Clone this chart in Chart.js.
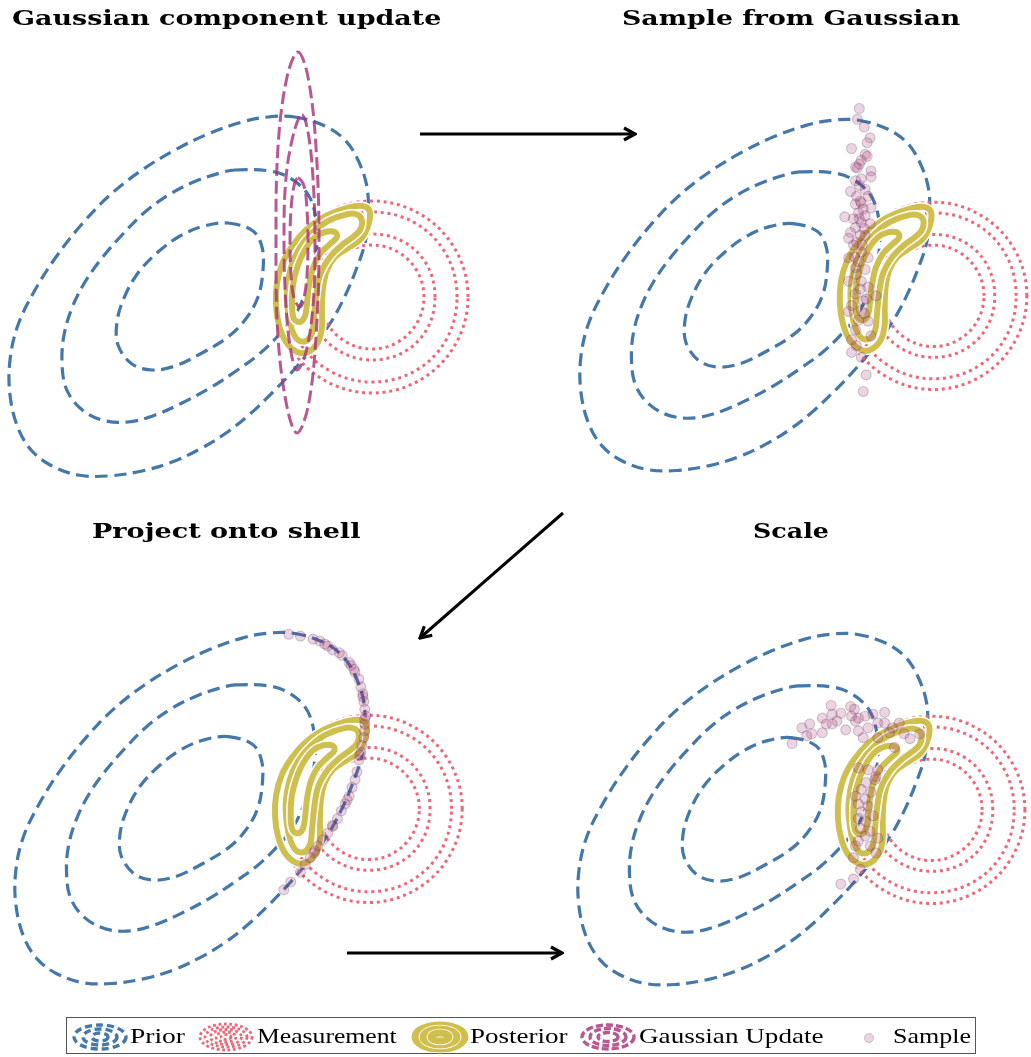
<!DOCTYPE html>
<html>
<head>
<meta charset="utf-8">
<script src="https://cdn.jsdelivr.net/npm/chart.js@4.4.1/dist/chart.umd.min.js"></script>
<style>
  html, body { margin: 0; padding: 0; background: #fff; overflow: hidden; }
  body { width: 1031px; height: 1057px; position: relative; }
  canvas.panel { position: absolute; }
  .title { position: absolute; font-family: 'DejaVu Serif', serif; font-weight: bold;
           font-size: 21px; line-height: 21px; white-space: nowrap; color: #000; transform-origin: 0 0; }
  #legend { position: absolute; left: 66px; top: 1017px; width: 910px; height: 37px;
            border: 1.5px solid #555; box-sizing: border-box; }
  .ltext { position: absolute; font-family: 'Liberation Serif', serif; font-size: 22px;
           line-height: 22px; white-space: nowrap; color: #000; transform-origin: 0 0; }
  .licon { position: absolute; }
  svg#arrows { position: absolute; left: 0; top: 0; }
</style>
</head>
<body>

<canvas id="p1" class="panel"></canvas>
<canvas id="p2" class="panel"></canvas>
<canvas id="p3" class="panel"></canvas>
<canvas id="p4" class="panel"></canvas>

<div class="title" data-cx="227" data-base="25" data-w="430">Gaussian component update</div>
<div class="title" data-cx="791" data-base="25" data-w="338">Sample from Gaussian</div>
<div class="title" data-cx="226" data-base="538" data-w="268">Project onto shell</div>
<div class="title" data-cx="791" data-base="538" data-w="76">Scale</div>

<svg id="arrows" width="1031" height="1057">
  <defs>
    <marker id="head" viewBox="0 0 16 16" refX="14" refY="8" markerWidth="16" markerHeight="16"
            markerUnits="userSpaceOnUse" orient="auto">
      <path d="M3,2 L14,8 L3,14" fill="none" stroke="#000" stroke-width="3.2" stroke-linejoin="miter"/>
    </marker>
  </defs>
  <line x1="420" y1="134" x2="635" y2="134" stroke="#000" stroke-width="3" marker-end="url(#head)"/>
  <line x1="563" y1="513" x2="420" y2="638" stroke="#000" stroke-width="3" marker-end="url(#head)"/>
  <line x1="347" y1="953" x2="562" y2="953" stroke="#000" stroke-width="3" marker-end="url(#head)"/>
</svg>

<div id="legend"></div>

<script>
// ---- colours -------------------------------------------------------------
const PRIOR_COLOR = '#4477AA';
const MEAS_COLOR = '#EE6677';
const POST_COLOR = 'rgba(204,187,68,0.94)';
const UPDATE_COLOR = 'rgba(170,51,119,0.82)';
const SAMPLE_FILL = 'rgba(170,51,119,0.21)';
const SAMPLE_EDGE = 'rgba(70,40,70,0.24)';

// ---- prior density contours (state space, x / y) --------------------------
const priorOuter = [
  [0.95, 1.83], [1.25, 1.74], [1.45, 1.60], [1.58, 1.40], [1.67, 1.13], [1.68, 0.83],
  [1.65, 0.57], [1.56, 0.30], [1.45, 0.04], [1.31, -0.22], [1.12, -0.48], [0.92, -0.72],
  [0.72, -0.93], [0.50, -1.14], [0.26, -1.33], [0.00, -1.49], [-0.28, -1.62], [-0.58, -1.71],
  [-0.92, -1.76], [-1.22, -1.75], [-1.48, -1.66], [-1.68, -1.51], [-1.82, -1.28], [-1.90, -0.95],
  [-1.90, -0.60], [-1.82, -0.25], [-1.65, 0.10], [-1.44, 0.43], [-1.18, 0.76], [-0.90, 1.05],
  [-0.58, 1.30], [-0.25, 1.50], [0.08, 1.66], [0.42, 1.78], [0.68, 1.83]
];
const priorMiddle = [
  [0.35, 1.30], [0.70, 1.29], [0.90, 1.22], [1.07, 1.07], [1.15, 0.87], [1.17, 0.60],
  [1.14, 0.35], [1.06, 0.08], [0.93, -0.18], [0.77, -0.37], [0.58, -0.55], [0.36, -0.71],
  [0.10, -0.88], [-0.18, -1.03], [-0.45, -1.15], [-0.72, -1.22], [-0.98, -1.20], [-1.20, -1.08],
  [-1.34, -0.88], [-1.38, -0.62], [-1.36, -0.35], [-1.28, -0.08], [-1.15, 0.18], [-0.98, 0.42],
  [-0.78, 0.65], [-0.55, 0.88], [-0.30, 1.06], [-0.04, 1.19], [0.20, 1.27]
];
const priorInner = [
  [0.28, 0.77], [0.53, 0.69], [0.62, 0.53], [0.63, 0.30], [0.58, 0.03], [0.45, -0.20],
  [0.28, -0.37], [0.02, -0.53], [-0.25, -0.66], [-0.48, -0.70], [-0.68, -0.64], [-0.82, -0.45],
  [-0.83, -0.22], [-0.76, 0.02], [-0.62, 0.27], [-0.42, 0.48], [-0.20, 0.64], [0.04, 0.74]
];

// ---- measurement likelihood rings ----------------------------------------
const measRing1 = [
  [2.68, 0.03], [2.55, 0.51], [2.20, 0.86], [1.72, 0.99], [1.24, 0.86], [0.89, 0.51],
  [0.76, 0.03], [0.89, -0.45], [1.24, -0.80], [1.72, -0.93], [2.20, -0.80], [2.55, -0.45]
];
const measRing2 = [
  [2.57, 0.03], [2.46, 0.46], [2.15, 0.77], [1.72, 0.88], [1.30, 0.77], [0.98, 0.46],
  [0.87, 0.03], [0.98, -0.40], [1.30, -0.71], [1.72, -0.82], [2.15, -0.71], [2.46, -0.40]
];
const measRing3 = [
  [2.35, 0.03], [2.27, 0.35], [2.04, 0.58], [1.72, 0.66], [1.41, 0.58], [1.17, 0.35],
  [1.09, 0.03], [1.17, -0.29], [1.41, -0.52], [1.72, -0.60], [2.04, -0.52], [2.27, -0.29]
];
const measRing4 = [
  [2.24, 0.03], [2.17, 0.29], [1.98, 0.48], [1.72, 0.55], [1.46, 0.48], [1.27, 0.29],
  [1.20, 0.03], [1.27, -0.23], [1.46, -0.42], [1.72, -0.49], [1.98, -0.42], [2.17, -0.23]
];

// ---- posterior contours ---------------------------------------------------
const posteriorOuter = [
  [1.56, 0.94], [1.66, 0.93], [1.70, 0.87], [1.68, 0.74], [1.61, 0.61], [1.48, 0.52],
  [1.35, 0.43], [1.27, 0.30], [1.23, 0.12], [1.22, -0.08], [1.22, -0.27], [1.18, -0.42],
  [1.08, -0.52], [0.97, -0.52], [0.86, -0.42], [0.79, -0.25], [0.76, -0.05], [0.77, 0.17],
  [0.83, 0.38], [0.93, 0.55], [1.06, 0.70], [1.22, 0.82], [1.40, 0.90]
];
const posteriorMiddle = [
  [1.48, 0.86], [1.58, 0.85], [1.62, 0.79], [1.60, 0.70], [1.53, 0.63], [1.42, 0.55],
  [1.30, 0.43], [1.20, 0.25], [1.16, 0.03], [1.14, -0.17], [1.12, -0.33], [1.06, -0.41],
  [0.98, -0.40], [0.92, -0.30], [0.88, -0.12], [0.87, 0.10], [0.91, 0.33], [0.99, 0.51],
  [1.12, 0.67], [1.28, 0.79]
];
const posteriorInner = [
  [1.25, 0.68], [1.35, 0.68], [1.37, 0.63], [1.30, 0.56], [1.20, 0.46], [1.13, 0.32],
  [1.09, 0.15], [1.07, -0.03], [1.05, -0.16], [1.00, -0.22], [0.94, -0.19], [0.92, -0.05],
  [0.93, 0.15], [0.98, 0.35], [1.06, 0.52], [1.15, 0.63]
];

// ---- Gaussian component update contours -----------------------------------
const updateOuter = [
  [0.98, 2.48], [1.08, 2.23], [1.16, 1.53], [1.19, 0.58], [1.16, -0.37], [1.08, -1.07],
  [0.97, -1.33], [0.87, -1.07], [0.78, -0.37], [0.76, 0.58], [0.78, 1.53], [0.87, 2.23]
];
const updateMiddle = [
  [1.02, 1.85], [1.08, 1.68], [1.13, 1.22], [1.15, 0.58], [1.13, -0.06], [1.06, -0.52],
  [0.97, -0.70], [0.91, -0.52], [0.86, -0.06], [0.84, 0.58], [0.86, 1.22], [0.94, 1.68]
];
const updateInner = [
  [0.98, 1.22], [1.04, 1.14], [1.07, 0.90], [1.08, 0.58], [1.07, 0.25], [1.04, 0.02],
  [1.00, -0.07], [0.94, 0.02], [0.91, 0.25], [0.90, 0.58], [0.91, 0.90], [0.94, 1.14]
];

// ---- samples --------------------------------------------------------------
const samplesGaussian = [
  [0.96, 1.95], [0.94, 1.84], [1.01, 1.76], [1.07, 1.65], [1.04, 1.60], [0.88, 1.54],
  [1.02, 1.48], [1.04, 1.46], [0.98, 1.42], [0.96, 1.38], [0.92, 1.35], [0.94, 1.34],
  [1.08, 1.31], [1.08, 1.25], [0.98, 1.23], [0.92, 1.21], [0.87, 1.10], [0.96, 1.16],
  [1.02, 1.12], [0.93, 1.05], [1.05, 1.05], [0.98, 0.98], [0.92, 0.97], [1.08, 0.93],
  [1.00, 0.92], [0.95, 0.88], [0.81, 0.84], [0.90, 0.82], [1.02, 0.85], [0.98, 0.78],
  [0.92, 0.73], [1.07, 0.77], [0.87, 0.68], [0.97, 0.65], [0.85, 0.62], [1.02, 0.65],
  [0.93, 0.58], [0.90, 0.55], [0.85, 0.42], [0.98, 0.48], [1.05, 0.42], [0.92, 0.32],
  [1.02, 0.30], [0.85, 0.18], [0.98, 0.18], [1.05, 0.12], [1.13, 0.03], [0.92, 0.05],
  [1.00, -0.02], [0.88, -0.07], [0.85, -0.13], [0.98, -0.12], [1.05, -0.23], [0.95, -0.22],
  [0.92, -0.32], [1.08, -0.38], [0.88, -0.42], [0.93, -0.48], [0.88, -0.55], [0.98, -0.60],
  [1.03, -0.78], [1.00, -0.95], [0.97, 1.00], [1.01, 0.72], [0.95, 0.38], [1.03, 0.00],
  [0.97, 0.10], [0.93, 0.25], [0.99, 0.55], [0.96, 0.82], [0.91, 0.43], [1.01, -0.15]
];
const samplesShell = [
  [0.90, 1.82], [1.02, 1.80], [1.15, 1.77], [1.22, 1.75], [1.30, 1.70], [1.35, 1.66],
  [1.42, 1.63], [1.45, 1.60], [1.52, 1.53], [1.54, 1.50], [1.58, 1.43], [1.62, 1.36],
  [1.64, 1.28], [1.66, 1.21], [1.67, 1.13], [1.68, 1.05], [1.69, 0.98], [1.68, 0.90],
  [1.68, 0.83], [1.67, 0.76], [1.65, 0.68], [1.64, 0.61], [1.62, 0.53], [1.60, 0.41],
  [1.58, 0.33], [1.55, 0.25], [1.52, 0.16], [1.48, 0.08], [1.44, 0.01], [1.40, -0.07],
  [1.35, -0.14], [1.30, -0.22], [1.25, -0.29], [1.20, -0.35], [1.17, -0.40], [1.12, -0.47],
  [1.07, -0.54], [1.02, -0.62], [0.92, -0.72], [0.85, -0.80], [1.66, 1.18], [1.68, 0.95],
  [1.63, 0.58], [1.50, 0.12], [1.35, -0.15], [1.27, 1.72], [1.57, 1.46], [1.16, -0.42]
];
const samplesScaled = [
  [0.69, 1.10], [0.60, 0.97], [0.70, 1.01], [0.79, 1.02], [0.75, 0.94], [0.64, 0.91],
  [0.39, 0.87], [0.47, 0.91], [0.49, 0.81], [0.60, 0.82], [0.70, 0.91], [0.89, 1.09],
  [0.93, 1.06], [0.90, 0.99], [0.97, 0.97], [1.04, 0.99], [1.12, 1.01], [1.24, 1.03],
  [1.17, 0.92], [1.07, 0.87], [0.97, 0.84], [0.84, 0.85], [0.94, 0.94], [1.24, 0.92],
  [1.32, 0.87], [1.39, 0.92], [1.29, 0.82], [1.44, 0.81], [1.50, 0.76], [1.60, 0.81],
  [0.29, 0.71], [0.44, 0.79], [1.17, 0.77], [1.02, 0.77], [1.34, 0.67], [0.97, 0.46],
  [1.07, 0.44], [1.17, 0.44], [1.14, 0.34], [1.05, 0.31], [1.00, 0.24], [1.10, 0.21],
  [1.04, 0.14], [0.97, 0.09], [1.07, 0.07], [1.00, 0.01], [1.12, -0.03], [0.97, -0.06],
  [1.05, -0.09], [0.99, -0.16], [1.09, -0.19], [1.04, -0.24], [0.97, -0.29], [1.09, -0.34],
  [1.15, -0.41], [0.94, -0.34], [0.92, -0.46], [0.99, -0.58], [0.92, -0.68], [0.79, -0.73],
  [1.15, 0.37], [0.94, 0.17], [1.17, -0.26]
];

// ---- plot window: every panel shares the same state-space window ---------
const X_MIN = -2, Y_MAX = 3, PX_PER_UNIT = 100;

const toPoints = arr => arr.map(([x, y]) => ({ x, y }));

// Makes closed contour datasets wrap around smoothly (as the radar chart does).
const closeLoops = {
  id: 'closeLoops',
  afterDatasetUpdate(chart, args) {
    const ds = chart.data.datasets[args.index];
    if (ds.closed && args.meta.dataset) {
      args.meta.dataset._loop = true;
      args.meta.dataset._fullLoop = true;
    }
  }
};

function contour(arr, color, width, dash, order) {
  return {
    data: toPoints(arr), closed: true, spanGaps: true, tension: 0.36,
    borderColor: color, borderWidth: width, borderDash: dash, borderCapStyle: 'butt',
    pointRadius: 0, fill: false, order, clip: false
  };
}

function sharedContours() {
  const sets = [];
  [priorOuter, priorMiddle, priorInner].forEach(c =>
    sets.push(contour(c, PRIOR_COLOR, 3.2, [12.5, 6.5], 60)));
  [measRing1, measRing2, measRing3, measRing4].forEach(c =>
    sets.push(contour(c, MEAS_COLOR, 3, [3, 3.8], 50)));
  [posteriorOuter, posteriorMiddle, posteriorInner].forEach((c, i) => {
    sets.push(contour(c, '#ffffff', 9, [], 40 - 2 * i));
    sets.push(contour(c, POST_COLOR, 6, [], 39 - 2 * i));
  });
  return sets;
}

function sampleSet(arr) {
  return {
    data: toPoints(arr), showLine: false, order: 5,
    pointRadius: 5, pointBorderWidth: 1.1,
    pointBackgroundColor: SAMPLE_FILL, pointBorderColor: SAMPLE_EDGE, clip: false
  };
}

function makePanel(id, left, top, width, height, datasets) {
  const cv = document.getElementById(id);
  cv.width = width; cv.height = height;
  cv.style.left = left + 'px'; cv.style.top = top + 'px';
  cv.style.width = width + 'px'; cv.style.height = height + 'px';
  return new Chart(cv, {
    type: 'line',
    data: { datasets },
    options: {
      responsive: false, animation: false, devicePixelRatio: 1, events: [],
      layout: { padding: 0 },
      plugins: { legend: { display: false }, tooltip: { enabled: false }, title: { display: false } },
      scales: {
        x: { type: 'linear', bounds: 'data', display: false,
             min: X_MIN, max: X_MIN + width / PX_PER_UNIT },
        y: { type: 'linear', bounds: 'data', display: false,
             min: Y_MAX - height / PX_PER_UNIT, max: Y_MAX }
      }
    },
    plugins: [closeLoops]
  });
}

// Panel 1: prior, measurement, posterior and the Gaussian component update
const p1Sets = sharedContours();
[updateOuter, updateMiddle, updateInner].forEach(c =>
  p1Sets.push(contour(c, UPDATE_COLOR, 3, [13, 5], 20)));
makePanel('p1', 0, 0, 480, 500, p1Sets);

// Panel 2: draws from the Gaussian
makePanel('p2', 565, 0, 466, 500, sharedContours().concat([sampleSet(samplesGaussian)]));

// Panel 3: draws projected onto the prior shell
makePanel('p3', 0, 513, 480, 500, sharedContours().concat([sampleSet(samplesShell)]));

// Panel 4: rescaled draws
makePanel('p4', 563, 514, 468, 500, sharedContours().concat([sampleSet(samplesScaled)]));

// ---- legend ---------------------------------------------------------------
const legendItems = [
  { label: 'Prior', icon: 'prior', iconX: 70, textX: 129, textW: 55 },
  { label: 'Measurement', icon: 'meas', iconX: 196, textX: 256, textW: 140 },
  { label: 'Posterior', icon: 'post', iconX: 410, textX: 469, textW: 97 },
  { label: 'Gaussian Update', icon: 'update', iconX: 578, textX: 638, textW: 185 },
  { label: 'Sample', icon: 'sample', iconX: 854, textX: 892, textW: 78 }
];

function drawIcon(ctx, kind) {
  const cx = 29, cy = 17;
  const ring = (rx, ry, color, width, dash) => {
    ctx.beginPath();
    ctx.setLineDash(dash);
    ctx.strokeStyle = color; ctx.lineWidth = width;
    ctx.ellipse(cx, cy, rx, ry, 0, 0, Math.PI * 2);
    ctx.stroke();
  };
  if (kind === 'prior') {
    [[26, 12], [17, 8], [8, 4]].forEach(([a, b]) => ring(a, b, PRIOR_COLOR, 3.4, [7, 4]));
  } else if (kind === 'meas') {
    [[26, 13], [21, 10], [15.5, 7.5], [10, 5], [5, 2.5]].forEach(([a, b]) => ring(a, b, MEAS_COLOR, 2.8, [2.8, 2.6]));
  } else if (kind === 'post') {
    [[25, 12], [17, 8], [9, 4]].forEach(([a, b]) => {
      ring(a, b, '#ffffff', 8.5, []);
      ring(a, b, POST_COLOR, 7, []);
    });
  } else if (kind === 'update') {
    [[26, 12], [18, 8.5], [10, 4.5]].forEach(([a, b]) => ring(a, b, UPDATE_COLOR, 3.4, [7, 3]));
  } else if (kind === 'sample') {
    ctx.beginPath();
    ctx.arc(14, cy + 1, 4.5, 0, Math.PI * 2);
    ctx.fillStyle = SAMPLE_FILL; ctx.fill();
    ctx.strokeStyle = SAMPLE_EDGE; ctx.lineWidth = 1; ctx.stroke();
  }
}

const legendBox = document.getElementById('legend');
legendItems.forEach(item => {
  const cv = document.createElement('canvas');
  cv.className = 'licon';
  cv.width = 58; cv.height = 34;
  cv.style.left = (item.iconX - 66) + 'px';
  cv.style.top = (1036 - 17 - 1017) + 'px';
  legendBox.appendChild(cv);
  drawIcon(cv.getContext('2d'), item.icon);

  const span = document.createElement('div');
  span.className = 'ltext';
  span.textContent = item.label;
  span.dataset.left = item.textX;
  span.dataset.w = item.textW;
  legendBox.appendChild(span);
});

// ---- text placement: fit each label to its width on its baseline --------
// offsetWidth ignores CSS transforms, so this can safely run more than once.
function placeTexts() {
  document.querySelectorAll('.title').forEach(el => {
    const fs = 21, natural = el.offsetWidth;
    const w = +el.dataset.w, s = w / natural;
    el.style.left = (+el.dataset.cx - w / 2) + 'px';
    el.style.top = (+el.dataset.base - 0.846 * fs) + 'px';
    el.style.transform = 'scaleX(' + s + ')';
  });
  document.querySelectorAll('.ltext').forEach(el => {
    const fs = 22, natural = el.offsetWidth;
    const s = +el.dataset.w / natural;
    el.style.left = (+el.dataset.left - 66) + 'px';
    el.style.top = (1042 - 0.8375 * fs - 1017) + 'px';
    el.style.transform = 'scaleX(' + s + ')';
  });
}
placeTexts();
if (document.fonts && document.fonts.ready) document.fonts.ready.then(placeTexts);
</script>
</body>
</html>
